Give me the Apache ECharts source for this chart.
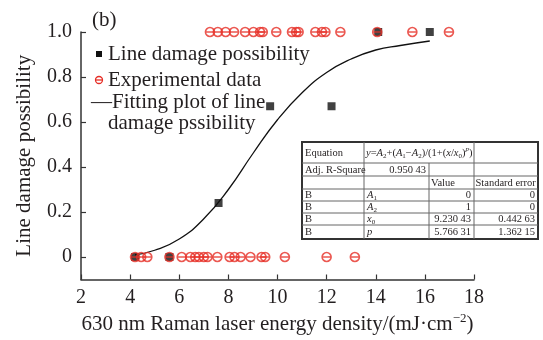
<!DOCTYPE html>
<html>
<head>
<meta charset="utf-8">
<title>Line damage possibility</title>
<script src="https://cdn.jsdelivr.net/npm/echarts@6/dist/echarts.min.js"></script>
<style>
html,body{margin:0;padding:0;background:#fff}
#chart1{width:543px;height:340px}
</style>
</head>
<body>
<div id="chart1"></div>
<script>
// 线损伤概率 (方块)
var damageX = [4.2, 5.6, 7.6, 9.7, 12.2, 14.1, 16.2];
var damageY = [0, 0, 0.24, 0.67, 0.67, 1.0, 1.0];
// 实验数据: 未损伤 (y=0) 和 损伤 (y=1)
var expOffX = [4.2, 4.45, 4.7, 5.6, 6.1, 6.45, 6.65, 6.8, 7.0, 7.15, 7.55, 8.05, 8.25, 8.5, 8.9, 9.35, 9.5, 10.3, 12.0, 13.15];
var expOnX = [7.25, 7.57, 7.89, 8.23, 8.68, 9.02, 9.29, 9.4, 9.95, 10.59, 10.76, 10.86, 11.54, 11.81, 11.95, 12.56, 14.06, 15.49, 16.98];
// 拟合曲线 (从图上读的点)
var fitX = [4.2, 5, 6, 7, 8, 9, 10, 11, 12, 13, 14, 15, 16.2];
var fitY = [0.01, 0.03, 0.08, 0.17, 0.3, 0.46, 0.61, 0.73, 0.82, 0.88, 0.92, 0.94, 0.96];
var yTicks = [0, 0.2, 0.4, 0.6, 0.8, 1.0];
// 右下角的拟合参数表
var tableRows = [
    ['Equation', '', '', ''],
    ['Adj. R-Square', '0.950 43', '', ''],
    ['', '', 'Value', 'Standard error'],
    ['B', 'A1', '0', '0'],
    ['B', 'A2', '1', '0'],
    ['B', 'x0', '9.230 43', '0.442 63'],
    ['B', 'p', '5.766 31', '1.362 15']
];

var serif = '"Liberation Serif", "Times New Roman", serif';
var txt = '#231f20';
var red = '#e62e26';
var ring = 'path://M0,5A5,5 0 1 1 10,5A5,5 0 1 1 0,5ZM0,5L10,5';
var tf = 10.5;

// 表格几何
var colX = [302, 364, 429, 474, 538];
var rowY = [142, 163, 176, 189, 201, 213, 225, 239];

var g = [];
function label(x, y, s, size, align, extra) {
    var st = {text: s, fontFamily: serif, fontSize: size, fill: txt, align: align || 'left', verticalAlign: 'middle'};
    for (var k in extra) st[k] = extra[k];
    g.push({type: 'text', x: x, y: y, z: 100, style: st});
}
function seg(x1, y1, x2, y2, w, c) {
    g.push({type: 'line', z: 100, shape: {x1: x1, y1: y1, x2: x2, y2: y2}, style: {stroke: c || '#555', lineWidth: w || 1}});
}

// (b)
label(92, 20, '(b)', 21);
// 图例
g.push({type: 'rect', z: 100, shape: {x: 96, y: 51, width: 6, height: 6}, style: {fill: '#111'}});
label(108, 54, 'Line damage possibility', 21);
g.push({type: 'circle', z: 100, shape: {cx: 99, cy: 80, r: 3.5}, style: {fill: 'none', stroke: red, lineWidth: 1.3}});
seg(95.5, 80, 102.5, 80, 1.3, red);
label(108, 80, 'Experimental data', 21);
label(91, 102, '\u2014Fitting plot of line', 21);
label(108, 123, 'damage pssibility', 21);

// 表格
g.push({type: 'rect', z: 99, shape: {x: colX[0], y: rowY[0], width: colX[4] - colX[0], height: rowY[7] - rowY[0]},
    style: {fill: '#fff', stroke: '#333', lineWidth: 2}});
for (var r = 1; r < rowY.length - 1; r++) seg(colX[0], rowY[r], colX[4], rowY[r], 1, '#666');
for (var r = 0; r < rowY.length - 1; r++) {
    for (var c = 1; c < 4; c++) {
        if (r === 0 && c === 2) continue;
        seg(colX[c], rowY[r], colX[c], rowY[r + 1], 1, '#666');
    }
}
var sub = {'A1': ['A', '1'], 'A2': ['A', '2'], 'x0': ['x', '0']};
tableRows.forEach(function (row, r) {
    var cy = (rowY[r] + rowY[r + 1]) / 2 + 0.5;
    if (row[0]) label(colX[0] + 3, cy, row[0], tf);
    if (r === 0) {
        g.push({type: 'text', x: colX[1] + 2, y: cy, z: 100, style: {
            text: '{i|y}={i|A}{s|2}+({i|A}{s|1}\u2212{i|A}{s|2})/(1+({i|x}/{i|x}{s|0}){p|p})',
            fontFamily: serif, fontSize: 10.5, fill: txt, verticalAlign: 'middle',
            rich: {
                i: {fontFamily: serif, fontSize: 10.5, fontStyle: 'italic', fill: txt},
                s: {fontFamily: serif, fontSize: 7, fill: txt, verticalAlign: 'bottom', lineHeight: 14},
                p: {fontFamily: serif, fontSize: 7, fontStyle: 'italic', fill: txt, verticalAlign: 'top', lineHeight: 14}
            }
        }});
        return;
    }
    if (r === 1) { label(colX[2] - 3, cy, row[1], tf, 'right'); return; }
    if (r === 2) { label(colX[2] + 2, cy, row[2], tf); label(colX[3] + 1.5, cy, row[3], tf); return; }
    var p = sub[row[1]];
    if (p) {
        g.push({type: 'text', x: colX[1] + 3, y: cy, z: 100, style: {
            text: '{i|' + p[0] + '}{s|' + p[1] + '}', fontFamily: serif, fontSize: tf, fill: txt, verticalAlign: 'middle',
            rich: {i: {fontFamily: serif, fontSize: tf, fontStyle: 'italic', fill: txt},
                   s: {fontFamily: serif, fontSize: 7, fill: txt, verticalAlign: 'bottom', lineHeight: 13}}
        }});
    } else {
        label(colX[1] + 3, cy, row[1], tf, 'left', {fontStyle: 'italic'});
    }
    label(colX[3] - 3, cy, row[2], tf, 'right');
    label(colX[4] - 3, cy, row[3], tf, 'right');
});

var myChart1 = echarts.init(document.getElementById('chart1'));
myChart1.setOption({
    animation: false,
    backgroundColor: '#fff',
    grid: {left: 81, right: 69, top: 32, bottom: 55},
    xAxis: {
        type: 'value', min: 2, max: 18, interval: 2,
        name: '630 nm Raman laser energy density/(mJ\u00b7cm{sup|\u22122})',
        nameLocation: 'middle', nameGap: 33,
        nameTextStyle: {fontFamily: serif, fontSize: 21, color: txt,
            rich: {sup: {fontFamily: serif, fontSize: 13, color: txt, verticalAlign: 'top', lineHeight: 24}}},
        axisLine: {onZero: false, lineStyle: {color: '#333', width: 1.5}},
        axisTick: {inside: true, length: 5, lineStyle: {color: '#333', width: 1.2}},
        axisLabel: {fontFamily: serif, fontSize: 20, color: txt, margin: 8},
        splitLine: {show: false}
    },
    yAxis: {
        type: 'value', min: -0.1, max: 1.0, interval: 0.1,
        name: 'Line damage possibility', nameLocation: 'middle', nameGap: 46,
        nameTextStyle: {fontFamily: serif, fontSize: 21, color: txt},
        axisLine: {onZero: false, lineStyle: {color: '#333', width: 1.5}},
        axisTick: {inside: true, length: 5, customValues: yTicks, lineStyle: {color: '#333', width: 1.2}},
        axisLabel: {fontFamily: serif, fontSize: 20, color: txt, margin: 9, customValues: yTicks,
            formatter: function (v) { return v === 0 ? '0' : v.toFixed(1); }},
        splitLine: {show: false}
    },
    series: [
        {
            name: 'Fitting plot of line damage pssibility', type: 'line', smooth: true, showSymbol: false,
            data: fitX.map(function (x, i) { return [x, fitY[i]]; }),
            lineStyle: {color: '#111', width: 1.3}, z: 2
        },
        {
            name: 'Line damage possibility', type: 'scatter', symbol: 'rect', symbolSize: 8,
            data: damageX.map(function (x, i) { return [x, damageY[i]]; }),
            itemStyle: {color: '#111'}, z: 3
        },
        {
            name: 'Experimental data', type: 'scatter', symbol: ring, symbolSize: 9,
            data: expOffX.map(function (x) { return [x, 0]; }).concat(expOnX.map(function (x) { return [x, 1]; })),
            itemStyle: {color: 'rgba(0,0,0,0)', borderColor: red, borderWidth: 1.6}, z: 4
        }
    ],
    graphic: g
});
</script>
</body>
</html>
